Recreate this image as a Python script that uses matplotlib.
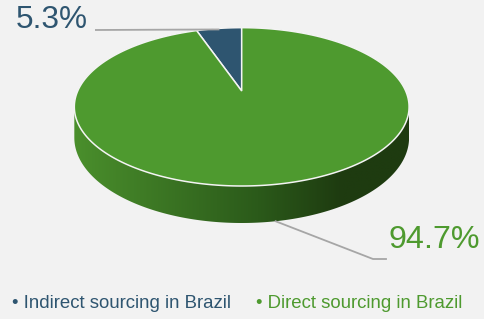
import numpy as np
import matplotlib
matplotlib.use("Agg")
import matplotlib.pyplot as plt
from matplotlib.transforms import Transform
from matplotlib.path import Path
from matplotlib.patches import PathPatch
from matplotlib.colors import LinearSegmentedColormap

# ---- data ----
categories = ["Indirect sourcing in Brazil", "Direct sourcing in Brazil"]
values = [5.3, 94.7]
labels = ["5.3%", "94.7%"]
colors = ["#2e5570", "#4e9a2f"]
side_colors = ["#4a8f2c", "#2b5a1a", "#1e3b10"]

BG = "#f2f2f2"
W, H = 485, 319
fig = plt.figure(figsize=(W / 100, H / 100), dpi=100, facecolor=BG)
ax = fig.add_axes([0, 0, 1, 1])
ax.set_facecolor(BG)

# pixel geometry of the pie
S = 164.0          # px per unit
CX, CY = 241.7, 91.0  # pie centre in px (from top)
K = 0.2            # perspective strength
HR = 76.0 / S      # vertical squash
DEPTH = 29.6 / S   # extrusion depth


class Persp(Transform):
    input_dims = output_dims = 2
    is_separable = False
    has_inverse = False

    def __init__(self, dz=0.0):
        super().__init__()
        self.dz = dz

    def transform_non_affine(self, values):
        v = np.asarray(values, float)
        x, y = v[:, 0], v[:, 1]
        w = 1 + K * y
        return np.column_stack([x / w, (y * HR - self.dz) / w])

    def transform_path_non_affine(self, path):
        verts, codes = [], []
        tt = np.linspace(0, 1, 24)[1:]
        for seg, code in path.iter_bezier():
            if code == Path.MOVETO:
                verts.append(seg.control_points[0])
                codes.append(Path.MOVETO)
            elif code == Path.CLOSEPOLY:
                verts.append(verts[-1])
                codes.append(Path.CLOSEPOLY)
            elif code == Path.LINETO:
                verts.append(seg.control_points[-1])
                codes.append(Path.LINETO)
            else:
                pts = seg(tt)
                verts.extend(pts)
                codes.extend([Path.LINETO] * len(pts))
        v = self.transform_non_affine(np.array(verts))
        return Path(v, codes)


# ---- side (gradient clipped to projected cylinder silhouette) ----
t = np.linspace(0, 2 * np.pi, 721)
circ = np.column_stack([np.cos(t), np.sin(t)])
top_pts = Persp(0).transform_non_affine(circ)
bot_pts = Persp(DEPTH).transform_non_affine(circ)
pts = np.vstack([top_pts, bot_pts])


def hull(p):
    p = sorted(map(tuple, p))
    def cross(o, a, b):
        return (a[0]-o[0])*(b[1]-o[1]) - (a[1]-o[1])*(b[0]-o[0])
    lower, upper = [], []
    for q in p:
        while len(lower) >= 2 and cross(lower[-2], lower[-1], q) <= 0:
            lower.pop()
        lower.append(q)
    for q in reversed(p):
        while len(upper) >= 2 and cross(upper[-2], upper[-1], q) <= 0:
            upper.pop()
        upper.append(q)
    return np.array(lower[:-1] + upper[:-1])


hp = hull(pts)
clip = PathPatch(Path(np.vstack([hp, hp[:1]]), closed=True), transform=ax.transData,
                 facecolor="none", edgecolor="none")
ax.add_patch(clip)
cmap = LinearSegmentedColormap.from_list("side", [(0, side_colors[0]), (0.55, side_colors[1]), (0.8, side_colors[2]), (1, side_colors[2])])
xmin, xmax = hp[:, 0].min(), hp[:, 0].max()
ymin, ymax = hp[:, 1].min(), hp[:, 1].max()
grad = np.linspace(0, 1, 256)[None, :]
im = ax.imshow(grad, cmap=cmap, extent=(xmin, xmax, ymin, ymax), aspect="auto",
               zorder=1, interpolation="bilinear")
im.set_clip_path(clip)

# ---- top face ----
wedges, _ = ax.pie(values, colors=colors, startangle=90, counterclock=True,
                   wedgeprops=dict(edgecolor="#f4f4f4", linewidth=1.1))
for w in wedges:
    w.set_transform(Persp(0) + ax.transData)
    w.set_zorder(3)

# ---- axes limits in px-derived units ----
ax.set_aspect("auto")
ax.set_xlim(-CX / S, (W - CX) / S)
ax.set_ylim(-(H - CY) / S, CY / S)
ax.axis("off")


def px(x, y):
    return ((x - CX) / S, (CY - y) / S)


# ---- leader lines and labels ----
lc = "#a6a6a6"
mid0 = np.deg2rad(90 + values[0] / sum(values) * 360 / 2)
a0 = Persp(0).transform_non_affine(np.array([[np.cos(mid0) * 0.98, np.sin(mid0) * 0.98]]))[0]
p1 = px(95, 30)
ax.plot([p1[0], a0[0]], [p1[1], a0[1]], color=lc, lw=1.3, zorder=4, solid_capstyle="butt")
ax.text(*px(88, 20), labels[0], color=colors[0], fontsize=22.7, family="Liberation Sans",
        ha="right", va="center", zorder=5)
mid1 = np.deg2rad(90 + (values[0] + values[1] / 2) / sum(values) * 360)
a1 = Persp(DEPTH).transform_non_affine(np.array([[np.cos(mid1), np.sin(mid1)]]))[0]
q1 = px(373, 259)
q2 = px(386, 259)
ax.plot([a1[0], q1[0], q2[0]], [a1[1], q1[1], q2[1]], color=lc, lw=1.3, zorder=4)
ax.text(*px(389, 240), labels[1], color=colors[1], fontsize=23.2, family="Liberation Sans",
        ha="left", va="center", zorder=5)

# ---- legend ----
ax.text(*px(12, 304), "\u2022 " + categories[0], color=colors[0], fontsize=13.4,
        family="Liberation Sans", ha="left", va="center")
ax.text(*px(256, 304), "\u2022 " + categories[1], color=colors[1], fontsize=13.4,
        family="Liberation Sans", ha="left", va="center")

fig.savefig("out.png", dpi=100, facecolor=BG)
